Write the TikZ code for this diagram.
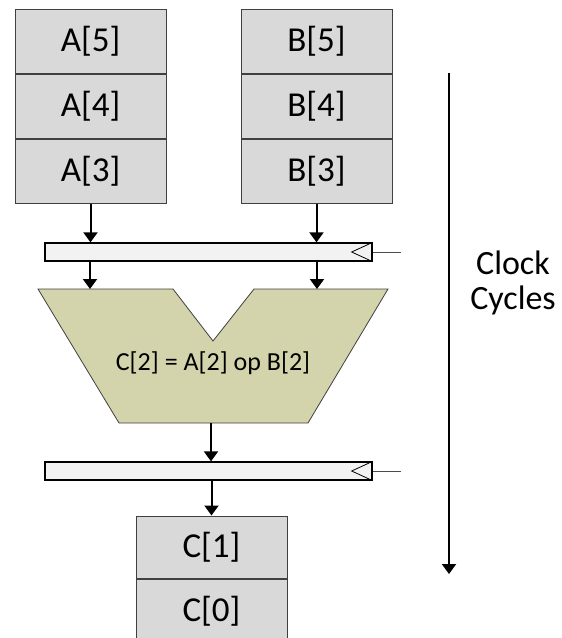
\documentclass[tikz,border=0pt]{standalone}
\usepackage{fontspec}
\setmainfont{Carlito}
\usetikzlibrary{arrows.meta, positioning}

\definecolor{cellgray}{RGB}{217,217,217}
\definecolor{reggray}{RGB}{242,242,242}
\definecolor{aluolive}{RGB}{211,211,172}
\definecolor{edgegray}{RGB}{64,64,64}

\begin{document}
\begin{tikzpicture}[
	x=1pt, y=-1pt,
	node distance=0pt,
	cell/.style={draw=edgegray, line width=1pt, fill=cellgray, minimum width=151pt, minimum height=64pt, inner sep=0pt, font=\fontsize{35}{42}\selectfont},
	reg/.style={draw=black, line width=1.3pt, fill=reggray, minimum width=327pt, minimum height=18pt, inner sep=0pt},
	arr/.style={-{Triangle[width=14pt, length=10pt]}, line width=2pt},
	clk/.style={line width=0.8pt, draw=black!70}
]
\useasboundingbox (0,0) rectangle (562,638);

% input queues
\node[cell] (a5) at (90.5,41) {A[5]};
\node[cell, below=of a5] (a4) {A[4]};
\node[cell, below=of a4] (a3) {A[3]};
\node[cell] (b5) at (316.5,41) {B[5]};
\node[cell, below=of b5] (b4) {B[4]};
\node[cell, below=of b4] (b3) {B[3]};

% pipeline registers
\node[reg] (reg1) at (208.5,252) {};
\node[reg] (reg2) at (208.5,471) {};
\foreach \r in {reg1, reg2} {
	\draw[line width=0.8pt] (\r.north east) -- ([xshift=-21pt]\r.east) -- (\r.south east);
	\coordinate (\r clk) at ([xshift=28pt]\r.east);
	\draw[clk] (\r.east) -- (\r clk);
}

% operation unit
\draw[draw=edgegray, line width=0.8pt, fill=aluolive]
	(38,289) -- (173,289) -- (213,341) -- (254,289) -- (388,289)
	-- (308,423) -- (119,423) -- cycle;
\node[font=\fontsize{26}{31}\selectfont] (alu) at (213,363) {C[2] = A[2] op B[2]};
\coordinate (aluA) at (90,289);
\coordinate (aluB) at (317,289);
\coordinate (aluOut) at (211,423);

% output queue
\node[cell, minimum height=62pt] (c1) at (211.5,547) {C[1]};
\node[cell, below=of c1] (c0) {C[0]};

% data flow
\draw[arr] (a3.south) -- (a3.south |- reg1.north);
\draw[arr] (b3.south) -- (b3.south |- reg1.north);
\draw[arr] (reg1.south -| aluA) -- (aluA);
\draw[arr] (reg1.south -| aluB) -- (aluB);
\draw[arr] (aluOut) -- (aluOut |- reg2.north);
\draw[arr] (reg2.south -| c1) -- (c1.north);

% time axis
\coordinate (ttop) at (449,73);
\coordinate (tbot) at (449,574);
\draw[arr] (ttop) -- (tbot);
\node[align=center, font=\fontsize{34}{35}\selectfont] (clock) at (513,283) {Clock\\Cycles};

\end{tikzpicture}
\end{document}
